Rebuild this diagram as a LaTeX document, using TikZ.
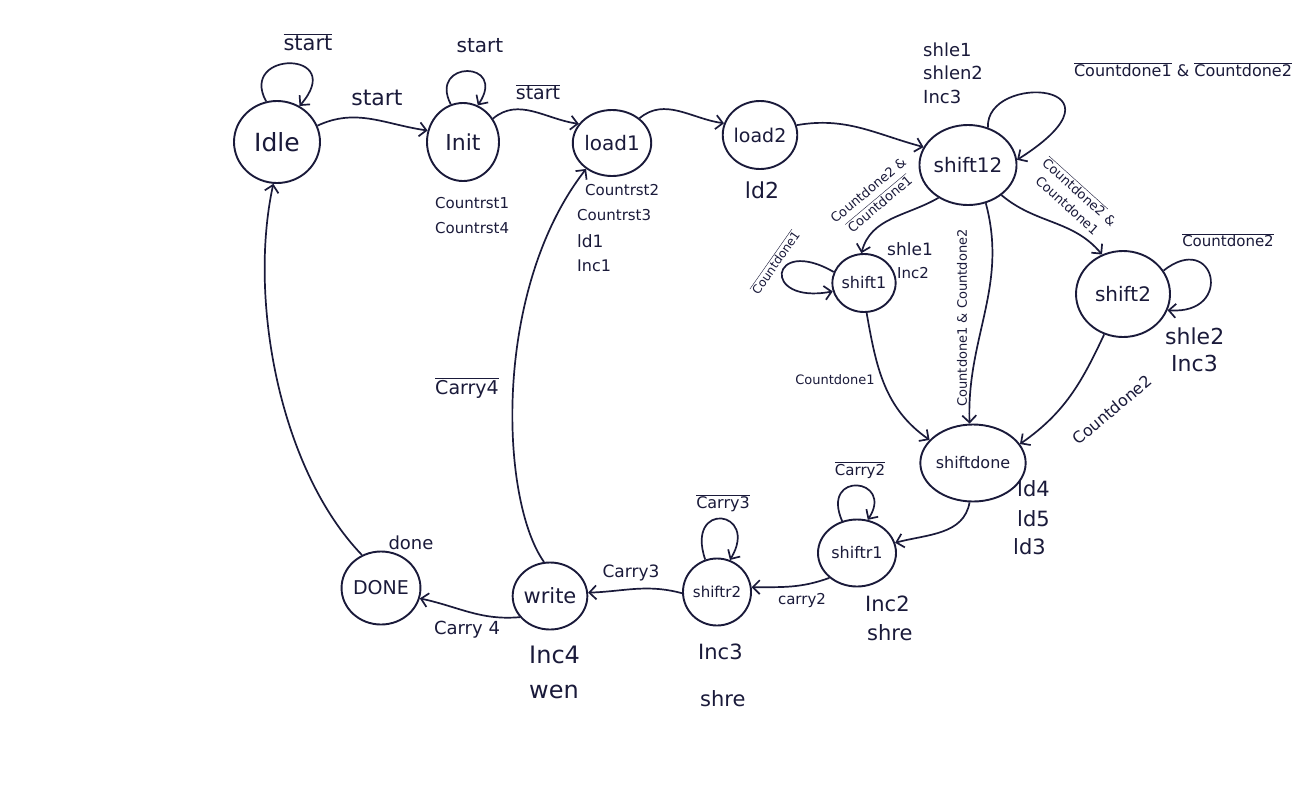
\documentclass[tikz,border=0pt]{standalone}
\usepackage{fontspec}
\setmainfont{DejaVu Sans}
\usetikzlibrary{arrows.meta,shapes.geometric}
\definecolor{ink}{RGB}{26,26,58}
\newcommand\ov[1]{$\overline{\mbox{#1}}$}
\newcommand\fs[1]{\fontsize{#1}{#1}\selectfont}
\begin{document}
\begin{tikzpicture}[x=1pt,y=-1pt,
  st/.style={draw=ink, ellipse, line width=1.9pt, inner sep=0pt, text=ink},
  arr/.style={draw=ink, line width=1.7pt,
    -{Straight Barb[length=7pt,width=14pt,line width=1.7pt]}},
  lb/.style={text=ink, inner sep=1pt},
  lw/.style={lb, anchor=west}]
\useasboundingbox[fill=white] (0,0) rectangle (1312,801);

% states
\node[st, minimum width=86pt, minimum height=82pt, font=\fs{25}] (idle) at (277,142) {Idle};
\node[st, minimum width=72pt, minimum height=78pt, font=\fs{22}] (init) at (463,142) {Init};
\node[st, minimum width=66pt, minimum height=66pt, font=\fs{20}] (load1) at (612,143) {load1};
\node[st, minimum width=72pt, minimum height=68pt, font=\fs{19}] (load2) at (760,135) {load2};
\node[st, minimum width=96pt, minimum height=80pt, font=\fs{20}] (s12) at (968,165) {shift12};
\node[st, minimum width=58pt, minimum height=58pt, font=\fs{16}] (s1) at (864,283) {shift1};
\node[st, minimum width=94pt, minimum height=86pt, font=\fs{20}] (s2) at (1123,294) {shift2};
\node[st, minimum width=93pt, minimum height=77pt, font=\fs{16}] (sd) at (973,463) {shiftdone};
\node[st, minimum width=78pt, minimum height=67pt, font=\fs{16}] (sr1) at (857,553) {shiftr1};
\node[st, minimum width=66pt, minimum height=67pt, font=\fs{15}] (sr2) at (717,592) {shiftr2};
\node[st, minimum width=70pt, minimum height=67pt, font=\fs{21}] (wr) at (550,596) {write};
\node[st, minimum width=78pt, minimum height=73pt, font=\fs{19}] (dn) at (381,588) {DONE};

% self loops
\draw[arr] (idle.105) .. controls (238,50) and (348,50) .. (idle.58);
\draw[arr] (init.108) .. controls (428,60) and (508,60) .. (init.68);
\draw[arr] (s12.62) .. controls (985,72) and (1140,82) .. (s12.6);
\draw[arr] (s1.160) .. controls (770,235) and (760,305) .. (s1.195);
\draw[arr] (s2.30) .. controls (1215,230) and (1235,315) .. (s2.-20);
\draw[arr] (sr1.115) .. controls (820,470) and (895,478) .. (sr1.72);
\draw[arr] (sr2.110) .. controls (685,500) and (760,510) .. (sr2.68);

% transitions
\draw[arr] (idle.22) to[out=25,in=172] (init.162);
\draw[arr] (init.38) to[out=40,in=172] (load1.150);
\draw[arr] (load1.42) to[out=40,in=172] (load2.162);
\draw[arr] (load2.15) to[out=10,in=165] (s12.158);
\draw[arr] (s12.228) to[out=210,in=75] (s1.95);
\draw[arr] (s12.318) to[out=-40,in=130] (s2.118);
\draw[arr] (s12.295) to[out=-75,in=92] (sd.95);
\draw[arr] (s1.275) to[out=-80,in=145] (sd.152);
\draw[arr] (s2.245) to[out=-115,in=35] (sd.22);
\draw[arr] (sd.265) to[out=-100,in=15] (sr1.15);
\draw[arr] (sr1.222) to[out=200,in=0] (sr2.8);
\draw[arr] (sr2.182) to[out=165,in=2] (wr.5);
\draw[arr] (wr.215) to[out=185,in=-12] (dn.345);
\draw[arr] (wr.100) .. controls (500,500) and (492,290) .. (load1.225);
\draw[arr] (dn.120) .. controls (280,470) and (248,300) .. (idle.265);

% transition conditions
\node[lb, font=\fs{21}] (c1) at (308,42) {\ov{start}};
\node[lb, font=\fs{22}] (c2) at (377,98) {start};
\node[lb, font=\fs{20}] (c3) at (480,46) {start};
\node[lb, font=\fs{19}] (c4) at (538,92) {\ov{start}};
\node[lb, font=\fs{16}] (c5) at (1183,70) {\ov{Countdone1} \& \ov{Countdone2}};
\node[lb, font=\fontsize{13}{18}\selectfont, rotate=40, align=center] (c6) at (874,197)
  {Countdone2 \&\\\ov{Countdone1}};
\node[lb, font=\fs{12}, rotate=55] (c7) at (775,262) {\ov{Countdone1}};
\node[lb, font=\fs{13}, rotate=90] (c8) at (962,318) {Countdone1 \& Countdone2};
\node[lb, font=\fontsize{13}{18}\selectfont, rotate=-42, align=center] (c9) at (1074,198)
  {\ov{Countdone2} \&\\Countdone1};
\node[lb, font=\fs{15}] (c10) at (1228,240) {\ov{Countdone2}};
\node[lb, font=\fs{13}] (c11) at (835,380) {Countdone1};
\node[lb, font=\fs{16}, rotate=40] (c12) at (1112,410) {Countdone2};
\node[lb, font=\fs{15}] (c13) at (860,470) {\ov{Carry2}};
\node[lb, font=\fs{15}] (c14) at (802,600) {carry2};
\node[lb, font=\fs{16}] (c15) at (723,503) {\ov{Carry3}};
\node[lb, font=\fs{17}] (c16) at (631,573) {Carry3};
\node[lb, font=\fs{18}] (c17) at (467,630) {Carry 4};
\node[lb, font=\fs{19}] (c18) at (467,388) {\ov{Carry4}};

% state outputs
\node[lw, font=\fs{15}] (o1) at (434,203) {Countrst1};
\node[lw, font=\fs{15}] (o2) at (434,228) {Countrst4};
\node[lw, font=\fs{15}] (o3) at (584,190) {Countrst2};
\node[lw, font=\fs{15}] (o4) at (576,215) {Countrst3};
\node[lw, font=\fs{17}] (o5) at (576,241) {ld1};
\node[lw, font=\fs{16}] (o6) at (576,266) {Inc1};
\node[lb, font=\fs{22}] (o7) at (762,190) {ld2};
\node[lw, font=\fs{18}] (o8) at (922,50) {shle1};
\node[lw, font=\fs{18}] (o9) at (922,73) {shlen2};
\node[lw, font=\fs{18}] (o10) at (922,97) {Inc3};
\node[lw, font=\fs{17}] (o11) at (886,249) {shle1};
\node[lw, font=\fs{15}] (o12) at (896,273) {Inc2};
\node[lw, font=\fs{22}] (o13) at (1164,336) {shle2};
\node[lw, font=\fs{22}] (o14) at (1170,363) {Inc3};
\node[lw, font=\fs{21}] (o15) at (1016,489) {ld4};
\node[lw, font=\fs{21}] (o16) at (1016,519) {ld5};
\node[lw, font=\fs{21}] (o17) at (1012,547) {ld3};
\node[lw, font=\fs{21}] (o18) at (864,604) {Inc2};
\node[lw, font=\fs{21}] (o19) at (866,633) {shre};
\node[lw, font=\fs{21}] (o20) at (697,652) {Inc3};
\node[lw, font=\fs{21}] (o21) at (699,699) {shre};
\node[lw, font=\fs{24}] (o22) at (528,655) {Inc4};
\node[lw, font=\fs{24}] (o23) at (528,692) {wen};
\node[lb, font=\fs{18}] (o24) at (411,543) {done};
\end{tikzpicture}
\end{document}
